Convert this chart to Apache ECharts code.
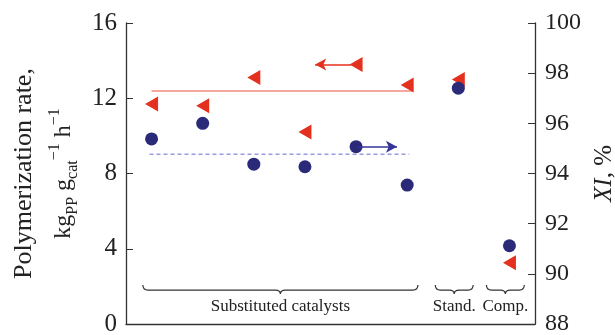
<!DOCTYPE html>
<html>
<head>
<meta charset="utf-8">
<script src="https://cdn.jsdelivr.net/npm/echarts@6/dist/echarts.min.js"></script>
<style>
  html, body { margin: 0; padding: 0; background: #fff; }
  #chart { width: 615px; height: 335px; }
</style>
</head>
<body>
<div id="chart"></div>
<script>
// catalyst positions along x (1..6 substituted, 7 standard, 8 comparison)
var catPos = [1, 2, 3, 4, 5, 6, 7, 8];
// polymerization rate, kg_PP g_cat^-1 h^-1 (left axis)
var rateVals = [11.7, 11.6, 13.1, 10.2, 13.8, 12.7, 13.0, 3.25];
// XI, % (right axis)
var xiVals = [95.38, 96.0, 94.37, 94.27, 95.07, 93.54, 97.4, 91.12];
// averages over substituted catalysts
var rateMean = 12.39;
var xiMean = 94.77;
var meanFrom = 1.0, meanTo = 6.1;
// group braces
var groupNames = ['Substituted catalysts', 'Stand.', 'Comp.'];
var groupFrom = [0.83, 6.55, 7.55];
var groupTo = [6.21, 7.29, 8.29];
var braceLevel = 2.07;

var serif = '"Liberation Serif", "DejaVu Serif", serif';
var red = '#e4301e';
var navy = '#2b2a78';

var chart = echarts.init(document.getElementById('chart'));

var rateData = [];
var xiData = [];
for (var i = 0; i < catPos.length; i++) {
  rateData.push([catPos[i], rateVals[i]]);
  xiData.push([catPos[i], xiVals[i]]);
}
var braceData = [];
for (var j = 0; j < groupNames.length; j++) {
  braceData.push([groupFrom[j], groupTo[j], braceLevel, groupNames[j]]);
}

function renderBrace(params, api) {
  var a = api.coord([api.value(0), api.value(2)]);
  var b = api.coord([api.value(1), api.value(2)]);
  var x1 = a[0], x2 = b[0], y0 = a[1];
  var y1 = y0 + 5, y2 = y0 + 9, r = 5;
  var xm = (x1 + x2) / 2;
  var d = 'M' + x1 + ',' + y0 +
    ' Q' + x1 + ',' + y1 + ' ' + (x1 + r) + ',' + y1 +
    ' L' + (xm - r) + ',' + y1 +
    ' Q' + xm + ',' + y1 + ' ' + xm + ',' + y2 +
    ' Q' + xm + ',' + y1 + ' ' + (xm + r) + ',' + y1 +
    ' L' + (x2 - r) + ',' + y1 +
    ' Q' + x2 + ',' + y1 + ' ' + x2 + ',' + y0;
  return {
    type: 'group',
    children: [
      {
        type: 'path',
        shape: { pathData: d },
        style: { fill: null, stroke: '#333', lineWidth: 1.2 }
      },
      {
        type: 'text',
        style: {
          text: api.value(3),
          x: xm, y: y0 + 21,
          textAlign: 'center', textVerticalAlign: 'middle',
          fontFamily: serif, fontSize: 17, fill: '#222'
        }
      }
    ]
  };
}

var option = {
  animation: false,
  grid: { left: 126, right: 80, top: 23, bottom: 11, containLabel: false, outerBoundsMode: 'none' },
  xAxis: {
    type: 'value', min: 0.5, max: 8.5,
    axisLine: { show: true, onZero: false, lineStyle: { color: '#333', width: 1.3 } },
    axisTick: { show: false },
    axisLabel: { show: false },
    splitLine: { show: false }
  },
  yAxis: [
    {
      type: 'value', min: 0, max: 16, interval: 4, position: 'left',
      name: '{a|Polymerization rate,}\n{b|kg}{s|PP}{b| g}{s|cat}{p|−1}{b| h}{p|−1}',
      nameLocation: 'middle', nameGap: 44, nameRotate: 90,
      nameTextStyle: {
        fontFamily: serif, color: '#222',
        rich: {
          a: { fontFamily: serif, fontSize: 26, color: '#222', lineHeight: 36, verticalAlign: 'top' },
          b: { fontFamily: serif, fontSize: 24, color: '#222', lineHeight: 34, verticalAlign: 'middle' },
          s: { fontFamily: serif, fontSize: 16, color: '#222', lineHeight: 15, verticalAlign: 'bottom' },
          p: { fontFamily: serif, fontSize: 16, color: '#222', lineHeight: 15, verticalAlign: 'top' }
        }
      },
      axisLine: { show: true, lineStyle: { color: '#333', width: 1.3 } },
      axisTick: { show: true, inside: true, length: 7, lineStyle: { color: '#333' } },
      axisLabel: { fontFamily: serif, fontSize: 25, color: '#222', margin: 9 },
      splitLine: { show: false }
    },
    {
      type: 'value', min: 88, max: 100, interval: 2, position: 'right',
      name: '{i|XI}{r|, %}',
      nameLocation: 'middle', nameGap: 56, nameRotate: 90,
      nameTextStyle: {
        rich: {
          i: { fontFamily: serif, fontSize: 25, fontStyle: 'italic', color: '#222' },
          r: { fontFamily: serif, fontSize: 25, color: '#222' }
        }
      },
      axisLine: { show: true, lineStyle: { color: '#333', width: 1.3 } },
      axisTick: { show: true, inside: true, length: 7, lineStyle: { color: '#333' } },
      axisLabel: { fontFamily: serif, fontSize: 24, color: '#222', margin: 10 },
      splitLine: { show: false }
    }
  ],
  series: [
    {
      name: 'rate mean', type: 'line', yAxisIndex: 0, symbol: 'none', silent: true,
      data: [[meanFrom, rateMean], [meanTo, rateMean]],
      lineStyle: { color: '#f2887c', width: 1.5 }, z: 1
    },
    {
      name: 'xi mean', type: 'line', yAxisIndex: 1, symbol: 'none', silent: true,
      data: [[meanFrom - 0.04, xiMean], [meanTo - 0.06, xiMean]],
      lineStyle: { color: '#9a9ae0', width: 1.5, type: [4, 3] }, z: 1
    },
    {
      name: 'rate', type: 'scatter', yAxisIndex: 0,
      symbol: 'path://M0,6 L11,0 L11,12 Z', symbolSize: [13, 15],
      itemStyle: { color: red, opacity: 1 },
      data: rateData, z: 3,
      markLine: {
        silent: true, symbol: ['arrow', 'none'], symbolSize: [9, 11],
        label: { show: false },
        lineStyle: { color: red, width: 1.5, type: 'solid', opacity: 1 },
        data: [[{ coord: [4.2, 13.8] }, { coord: [4.9, 13.8] }]]
      }
    },
    {
      name: 'xi', type: 'scatter', yAxisIndex: 1,
      symbol: 'circle', symbolSize: 13,
      itemStyle: { color: navy, opacity: 1 },
      data: xiData, z: 4,
      markLine: {
        silent: true, symbol: ['none', 'arrow'], symbolSize: [9, 11],
        label: { show: false },
        lineStyle: { color: '#34349a', width: 1.5, type: 'solid', opacity: 1 },
        data: [[{ coord: [5.05, 95.07] }, { coord: [5.8, 95.07] }]]
      }
    },
    {
      name: 'groups', type: 'custom', yAxisIndex: 0, silent: true,
      renderItem: renderBrace, data: braceData, clip: false
    }
  ]
};

chart.setOption(option);
</script>
</body>
</html>
